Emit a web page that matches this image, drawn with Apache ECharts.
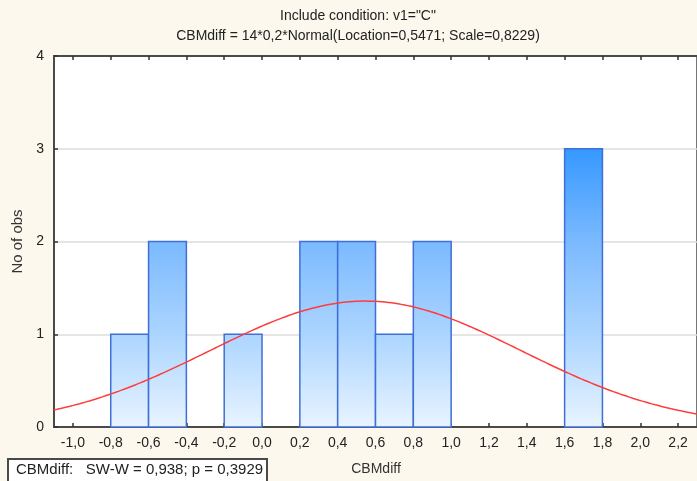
<!DOCTYPE html>
<html>
<head>
<meta charset="utf-8">
<script src="https://cdn.jsdelivr.net/npm/echarts@6/dist/echarts.min.js"></script>
<style>
  html, body { margin: 0; padding: 0; background: #fdf8ed; }
  #chart { width: 697px; height: 481px; }
</style>
</head>
<body>
<div id="chart"></div>
<script>
// Histogram bins (lower edge, upper edge) and observation counts
const binStarts = [-0.8, -0.6, -0.2, 0.2, 0.4, 0.6, 0.8, 1.6];
const binEnds   = [-0.6, -0.4,  0.0, 0.4, 0.6, 0.8, 1.0, 1.8];
const binCounts = [1, 2, 1, 2, 2, 1, 2, 3];

// Fitted normal curve parameters: N * binWidth * Normal(location, scale)
const nObs = 14;
const binWidth = 0.2;
const fitLocation = 0.5471;
const fitScale = 0.8229;

// Axis tick labels
const xTickLabels = ['-1,0','-0,8','-0,6','-0,4','-0,2','0,0','0,2','0,4','0,6','0,8','1,0','1,2','1,4','1,6','1,8','2,0','2,2'];
const yTickLabels = ['0','1','2','3','4'];

const titleLine1 = 'Include condition: v1="C"';
const titleLine2 = 'CBMdiff = 14*0,2*Normal(Location=0,5471; Scale=0,8229)';
const statsText = 'CBMdiff:   SW-W = 0,938; p = 0,3929';

const xMin = -1.1, xMax = 2.3;
const xTickValues = xTickLabels.map(s => parseFloat(s.replace(',', '.')));
const yTickValues = yTickLabels.map(Number);

const barData = binStarts.map((s, i) => [s, binEnds[i], binCounts[i]]);

// Density curve evaluated along the axis range
const curveData = [];
const steps = 200;
for (let i = 0; i <= steps; i++) {
  const x = xMin + (xMax - xMin) * i / steps;
  const z = (x - fitLocation) / fitScale;
  const y = nObs * binWidth * Math.exp(-0.5 * z * z) / (fitScale * Math.sqrt(2 * Math.PI));
  curveData.push([x, y]);
}

const chart = echarts.init(document.getElementById('chart'), null, { renderer: 'canvas' });
const font = 'Arial, "Liberation Sans", sans-serif';

const option = {
  backgroundColor: '#fdf8ed',
  animation: false,
  grid: {
    left: 54, top: 56, width: 645, height: 371,
    show: true, backgroundColor: '#ffffff', borderColor: '#4a4a4a', borderWidth: 1.5
  },
  xAxis: [{
    type: 'value', min: xMin, max: xMax, position: 'bottom',
    axisLine: { show: true, onZero: false, lineStyle: { color: '#4a4a4a', width: 2 } },
    axisTick: { show: true, inside: true, length: 4, customValues: xTickValues, lineStyle: { color: '#333', width: 1.5 } },
    axisLabel: {
      customValues: xTickValues, margin: 9,
      formatter: v => xTickLabels[xTickValues.findIndex(t => Math.abs(t - v) < 1e-6)] || '',
      color: '#222', fontSize: 14, fontFamily: font
    },
    splitLine: { show: false }
  }, {
    type: 'value', min: xMin, max: xMax, position: 'top',
    axisLine: { show: true, onZero: false, lineStyle: { color: '#4a4a4a', width: 2 } },
    axisTick: { show: true, inside: true, length: 4, customValues: xTickValues, lineStyle: { color: '#333', width: 1.5 } },
    axisLabel: { show: false },
    splitLine: { show: false }
  }],
  yAxis: {
    type: 'value', min: 0, max: 4, interval: 1, position: 'left',
    name: 'No of obs', nameLocation: 'middle', nameGap: 27,
    nameTextStyle: { color: '#333', fontSize: 15, fontFamily: font },
    axisLine: { show: true, onZero: false, lineStyle: { color: '#4a4a4a', width: 2 } },
    axisTick: { show: true, inside: true, length: 4, lineStyle: { color: '#333', width: 1.5 } },
    axisLabel: { color: '#222', fontSize: 14, fontFamily: font, margin: 10,
      formatter: v => yTickLabels[yTickValues.indexOf(v)] },
    splitLine: { show: true, lineStyle: { color: '#dddddd', width: 1.5 } }
  },
  series: [{
    type: 'custom',
    data: barData,
    encode: { x: [0, 1], y: 2 },
    renderItem: function (params, api) {
      const p0 = api.coord([api.value(0), 0]);
      const p1 = api.coord([api.value(1), api.value(2)]);
      const yTop = api.coord([0, 3])[1];
      const yBase = api.coord([0, 0])[1];
      return {
        type: 'rect',
        shape: { x: p0[0], y: p1[1], width: p1[0] - p0[0], height: p0[1] - p1[1] },
        style: {
          fill: new echarts.graphic.LinearGradient(0, yTop, 0, yBase, [
            { offset: 0, color: '#3598ff' },
            { offset: 0.34, color: '#7cbaff' },
            { offset: 0.67, color: '#acd5ff' },
            { offset: 1, color: '#e8f4ff' }
          ], true),
          stroke: '#3f6fd6',
          lineWidth: 1.5
        }
      };
    },
    z: 2
  }, {
    type: 'line',
    data: curveData,
    showSymbol: false,
    smooth: false,
    lineStyle: { color: '#ff3b3b', width: 1.5 },
    z: 3
  }],
  graphic: [
    { type: 'text', x: 358, y: 16, style: { text: titleLine1, fill: '#222', font: '14px ' + font, textAlign: 'center', textVerticalAlign: 'middle' } },
    { type: 'text', x: 358, y: 36, style: { text: titleLine2, fill: '#222', font: '14px ' + font, textAlign: 'center', textVerticalAlign: 'middle' } },
    { type: 'text', x: 376, y: 469, style: { text: 'CBMdiff', fill: '#333', font: '14px ' + font, textAlign: 'center', textVerticalAlign: 'middle' } },
    { type: 'rect', shape: { x: 8, y: 459, width: 259, height: 30 }, style: { fill: '#ffffff', stroke: '#4a4a4a', lineWidth: 2 } },
    { type: 'text', x: 16, y: 470, style: { text: statsText, fill: '#222', font: '15px ' + font, textVerticalAlign: 'middle' } }
  ]
};
chart.setOption(option);
</script>
</body>
</html>
